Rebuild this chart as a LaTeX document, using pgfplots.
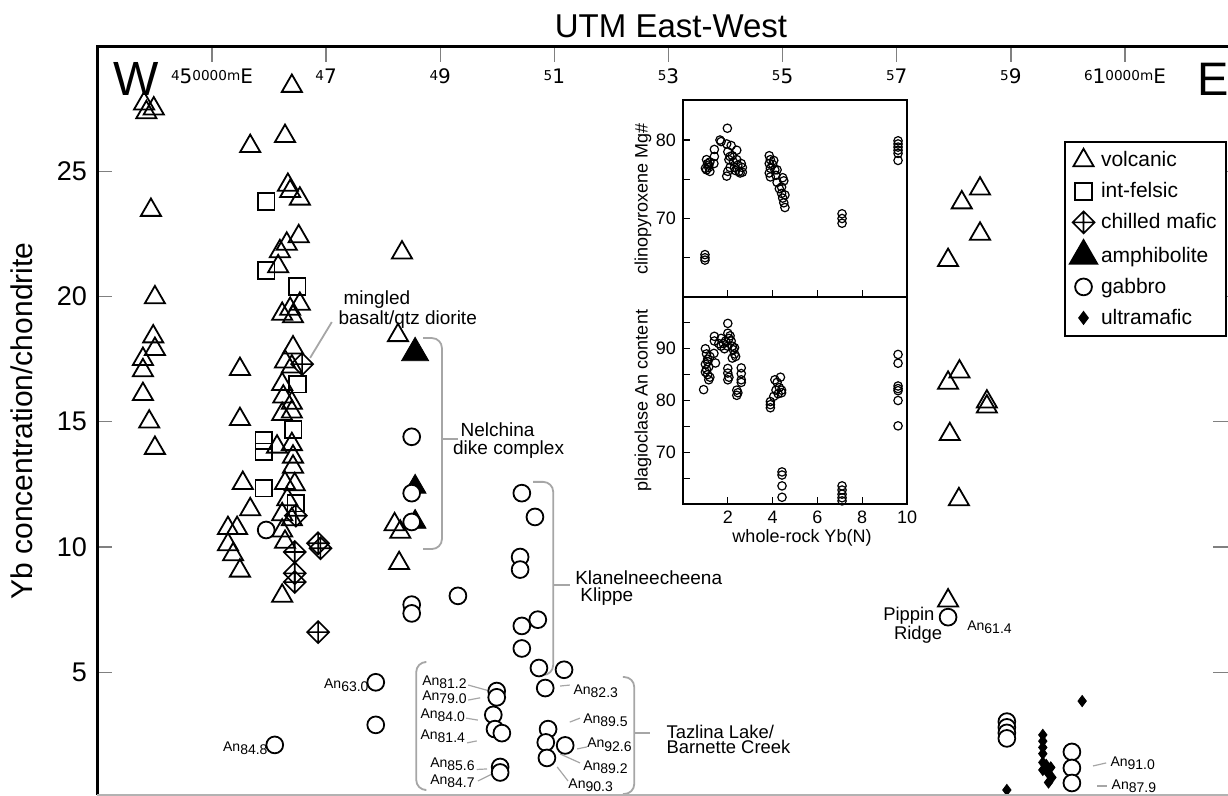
\documentclass[border=0pt]{standalone}
\usepackage{fontspec}
\setmainfont{Liberation Sans}
\newfontfamily\tickfont{DejaVu Sans}
\usepackage{pgfplots}
\pgfplotsset{compat=1.18}
\usetikzlibrary{calc}

% diamond with a cross inside (chilled mafic)
\pgfdeclareplotmark{chilled}{%
  \pgfpathmoveto{\pgfqpoint{0pt}{\pgfplotmarksize}}%
  \pgfpathlineto{\pgfqpoint{\pgfplotmarksize}{0pt}}%
  \pgfpathlineto{\pgfqpoint{0pt}{-\pgfplotmarksize}}%
  \pgfpathlineto{\pgfqpoint{-\pgfplotmarksize}{0pt}}%
  \pgfpathclose
  \pgfpathmoveto{\pgfqpoint{0pt}{\pgfplotmarksize}}%
  \pgfpathlineto{\pgfqpoint{0pt}{-\pgfplotmarksize}}%
  \pgfpathmoveto{\pgfqpoint{-\pgfplotmarksize}{0pt}}%
  \pgfpathlineto{\pgfqpoint{\pgfplotmarksize}{0pt}}%
  \pgfusepathqstroke}

\newcommand{\sm}[1]{\raisebox{1.8pt}{\fontsize{6.8}{7}\selectfont #1}}
\newcommand{\An}[1]{{\fontsize{7}{8}\selectfont An\raisebox{-0.45ex}{#1}}}
\newcommand{\annot}{\fontsize{9.5}{10}\selectfont}

\begin{document}
\begin{tikzpicture}
\begin{axis}[
  name=main,
  scale only axis, width=565.5pt, height=374pt,
  xmin=42.985, xmax=62.806, ymin=0.1, ymax=29.96,
  axis line style={draw=none},
  tick align=inside,
  major tick length=7.5pt,
  tick style={gray, line width=0.7pt},
  xtick={45,47,...,61},
  xtick pos=right, xticklabel pos=right,
  xticklabels={{\sm{4}5\sm{0000m}E},{\sm{4}7},{\sm{4}9},{\sm{5}1},{\sm{5}3},{\sm{5}5},{\sm{5}7},{\sm{5}9},{\sm{6}1\sm{0000m}E}},
  xticklabel style={font=\tickfont\fontsize{10}{10}\selectfont, anchor=base, yshift=-18.5pt},
  ytick={5,10,15,20,25},
  ytick pos=both, yticklabel pos=left,
  yticklabels={5,10,15,20,25},
  yticklabel style={font=\fontsize{13.5}{14}\selectfont, xshift=-1.5pt},
  legend cell align=left,
  legend style={at={(0.855,0.874)}, anchor=north west, draw=black, line width=1pt,
    font=\fontsize{10.5}{12}\selectfont, row sep=2.4pt, inner sep=2.5pt},
]
% volcanic
\addplot[only marks, mark=triangle, mark size=5.8pt, black, line width=0.9pt] coordinates {
 (43.81,27.7)(43.98,27.5)(43.85,27.35)(43.93,23.45)(44.0,19.96)(43.97,18.4)(44.0,17.9)
 (43.79,17.5)(43.79,17.05)(43.79,16.1)(43.9,15.0)(44.0,13.95)
 (45.67,26.0)(45.49,17.1)(45.49,15.1)(45.54,12.55)(45.67,11.5)(45.28,10.75)(45.44,10.75)
 (45.28,10.1)(45.37,9.7)(45.49,9.05)
 (46.40,28.4)(46.28,26.4)(46.33,24.45)(46.37,24.2)(46.54,23.9)(46.52,22.4)(46.31,22.1)
 (46.19,21.8)(46.16,21.2)(46.54,19.7)(46.37,19.5)(46.23,19.3)(46.42,19.2)(46.42,17.96)
 (46.28,17.4)(46.40,17.2)(46.23,16.5)(46.25,16.0)(46.40,15.75)(46.23,15.3)(46.40,15.4)
 (46.14,14.0)(46.40,14.1)(46.42,13.6)(46.42,13.2)(46.28,12.55)(46.45,12.5)(46.32,11.9)
 (46.23,11.3)(46.40,11.1)(46.23,10.65)(46.28,10.2)(46.23,8.05)
 (48.33,21.75)(48.26,18.45)(48.2,10.9)(48.3,10.6)(48.28,9.35)
 (58.46,24.3)(58.14,23.75)(58.46,22.5)(57.9,21.45)(58.1,17.0)(57.9,16.55)(58.58,15.8)
 (58.58,15.6)(57.93,14.5)(58.09,11.9)(57.9,7.86)
};
\addlegendentry{volcanic}
% int-felsic
\addplot[only marks, mark=square, mark size=4.2pt, black, line width=0.9pt] coordinates {
 (45.95,23.8)(45.95,21.05)(46.49,20.4)(46.5,16.5)(46.42,14.7)(45.91,14.25)(45.91,13.8)
 (45.91,12.35)(46.47,11.75)
};
\addlegendentry{int-felsic}
% chilled mafic
\addplot[only marks, mark=chilled, mark size=5.5pt, black, line width=0.8pt] coordinates {
 (46.58,17.3)(46.47,11.25)(46.86,10.15)(46.90,9.95)(46.45,9.8)(46.45,8.95)(46.45,8.6)(46.86,6.6)
};
\addlegendentry{chilled mafic}
% amphibolite
\addplot[only marks, mark=triangle*, mark size=7.8pt, black] coordinates {(48.56,17.75)};
\addlegendentry{amphibolite}
\addplot[only marks, mark=triangle*, mark size=6.3pt, black, forget plot] coordinates {
 (48.56,12.4)(48.56,11.0)
};
% gabbro
\addplot[only marks, mark=*, mark size=4.2pt, mark options={draw=black, fill=white}, line width=0.9pt] coordinates {
 (45.95,10.68)(48.5,14.4)(48.5,12.15)(48.5,11.0)(48.5,7.7)(48.5,7.35)(49.31,8.05)
 (50.43,12.15)(50.66,11.2)(50.4,9.6)(50.4,9.1)(50.71,7.1)(50.43,6.85)(50.43,5.95)
 (50.73,5.17)(51.17,5.1)(50.84,4.37)(47.87,4.6)(47.87,2.9)(46.1,2.1)
 (49.99,4.25)(49.99,4.0)(49.93,3.3)(49.96,2.73)(50.08,2.57)(50.05,1.22)(50.05,1.0)
 (50.89,2.73)(50.85,2.2)(51.19,2.08)(50.87,1.58)
 (57.9,7.2)(58.93,3.03)(58.93,2.8)(58.93,2.58)(58.93,2.36)
 (60.07,1.82)(60.07,1.18)(60.07,0.58)
};
\addlegendentry{gabbro}
% ultramafic
\addplot[only marks, mark=diamond*, mark size=2.8pt, black] coordinates {
 (60.25,3.85)(59.56,2.5)(59.56,2.25)(59.56,2.0)(59.56,1.75)(59.56,1.4)(59.62,1.3)(59.7,1.2)
 (59.56,1.1)(59.66,0.95)(59.72,0.8)(59.66,0.6)(58.93,0.3)
};
\addlegendentry{ultramafic}

% brackets and leader lines
\begin{scope}[gray!70, line width=0.9pt, rounded corners=5pt]
\draw (axis cs:48.70,18.34) -- (axis cs:49.03,18.34) -- (axis cs:49.03,9.92) -- (axis cs:48.70,9.92);
\draw (axis cs:50.63,12.6) -- (axis cs:50.98,12.6) -- (axis cs:50.98,4.89) -- (axis cs:50.78,4.89);
\draw (axis cs:48.73,5.41) -- (axis cs:48.58,5.41) -- (axis cs:48.58,0.3) -- (axis cs:48.73,0.3);
\draw (axis cs:52.20,4.81) -- (axis cs:52.40,4.81) -- (axis cs:52.40,0.14) -- (axis cs:52.20,0.14);
\end{scope}
\begin{scope}[gray!70, line width=0.9pt]
\draw (axis cs:49.03,14.31) -- (axis cs:49.31,14.31);
\draw (axis cs:50.98,8.48) -- (axis cs:51.27,8.48);
\draw (axis cs:52.40,2.58) -- (axis cs:52.68,2.58);
\draw (axis cs:47.10,18.98) -- (axis cs:46.72,17.55);
\end{scope}
\begin{scope}[gray!70, line width=0.6pt]
\draw (axis cs:49.49,4.49) -- (axis cs:49.87,4.25);
\draw (axis cs:49.49,3.89) -- (axis cs:49.70,3.98);
\draw (axis cs:49.45,3.17) -- (axis cs:49.66,3.09);
\draw (axis cs:49.47,2.18) -- (axis cs:49.64,2.26);
\draw (axis cs:49.64,1.12) -- (axis cs:49.82,1.14);
\draw (axis cs:49.66,0.66) -- (axis cs:49.91,0.94);
\draw (axis cs:51.10,4.45) -- (axis cs:51.27,4.49);
\draw (axis cs:51.27,3.01) -- (axis cs:51.45,3.17);
\draw (axis cs:51.40,1.94) -- (axis cs:51.57,2.02);
\draw (axis cs:51.10,1.74) -- (axis cs:51.45,1.38);
\draw (axis cs:51.05,1.22) -- (axis cs:51.24,0.66);
\draw (axis cs:60.44,1.26) -- (axis cs:60.67,1.38);
\draw (axis cs:60.51,0.46) -- (axis cs:60.69,0.46);
\end{scope}

% text
\begin{scope}[every node/.style={inner sep=0pt, font=\annot}]
\node[anchor=west] at (axis cs:49.35,14.67) {Nelchina};
\node[anchor=west] at (axis cs:49.22,13.87) {dike complex};
\node[anchor=west] at (axis cs:51.36,8.76) {Klanelneecheena};
\node[anchor=west] at (axis cs:51.45,8.04) {Klippe};
\node[anchor=west, align=left, font=\fontsize{9.2}{7.9}\selectfont] at (axis cs:52.96,2.32) {Tazlina Lake/\\Barnette Creek};
\node at (axis cs:47.89,19.86) {mingled};
\node at (axis cs:48.43,19.06) {basalt/qtz diorite};
\node[align=center, font=\fontsize{9.2}{8.2}\selectfont] at (axis cs:57.31,6.88) {\hspace*{-0.6em}Pippin\\\hspace*{0.4em}Ridge};
\node[anchor=west] at (axis cs:58.23,6.81) {\An{61.4}};
\node[anchor=east] at (axis cs:49.47,4.61) {\An{81.2}};
\node[anchor=east] at (axis cs:49.47,4.01) {\An{79.0}};
\node[anchor=east] at (axis cs:49.44,3.29) {\An{84.0}};
\node[anchor=east] at (axis cs:49.44,2.45) {\An{81.4}};
\node[anchor=east, align=right, font=\fontsize{7}{8.4}\selectfont] at (axis cs:49.61,0.99) {\An{85.6}\\\An{84.7}};
\node[anchor=east] at (axis cs:47.75,4.49) {\An{63.0}};
\node[anchor=east] at (axis cs:45.98,1.98) {\An{84.8}};
\node[anchor=west] at (axis cs:51.33,4.25) {\An{82.3}};
\node[anchor=west] at (axis cs:51.50,3.09) {\An{89.5}};
\node[anchor=west] at (axis cs:51.57,2.10) {\An{92.6}};
\node[anchor=west] at (axis cs:51.50,1.22) {\An{89.2}};
\node[anchor=west] at (axis cs:51.24,0.50) {\An{90.3}};
\node[anchor=west] at (axis cs:60.74,1.38) {\An{91.0}};
\node[anchor=west] at (axis cs:60.76,0.46) {\An{87.9}};
\node[anchor=base west, font=\fontsize{24}{24}\selectfont] at (axis cs:43.27,28.04) {W};
\node[anchor=base west, font=\fontsize{23.5}{24}\selectfont] at (axis cs:62.26,28.04) {E};
\end{scope}
\end{axis}

% frame of the main axis
\draw[line width=1.5pt] (main.south west) -- (main.north west) -- (main.north east);
\draw[gray!60, line width=0.8pt] (main.south west) -- (main.south east);
\node[anchor=base, font=\fontsize{16.5}{17}\selectfont] at ($(main.north)+(4.25pt,4.5pt)$) {UTM East-West};
\node[rotate=90, font=\fontsize{15}{16}\selectfont] at ($(main.west)+(-37.5pt,0)$) {Yb concentration/chondrite};

% inset: clinopyroxene
\begin{axis}[
  name=up,
  at={($(main.north west)+(293pt,-26.5pt)$)}, anchor=north west,
  scale only axis, width=112pt, height=98.5pt,
  xmin=0, xmax=10, ymin=60, ymax=85.1,
  axis background/.style={fill=white},
  axis line style={line width=1.1pt},
  tick align=inside, major tick length=3.5pt, tick style={black, line width=0.6pt},
  xtick={2,4,6,8}, xticklabels={}, xtick pos=left,
  ytick={65,70,75,80}, yticklabels={,70,,80}, ytick pos=left,
  yticklabel style={font=\fontsize{9}{10}\selectfont},
]
\addplot[only marks, mark=o, mark size=2.1pt, line width=0.6pt, black] coordinates {
 (1.05,77.5)(1.1,77.0)(1.15,76.5)(1.05,76.2)(1.2,76.0)(1.15,76.8)(1.0,76.4)(1.2,77.2)
 (0.98,65.4)(0.98,65.0)(0.98,64.7)
 (1.4,77.9)(1.4,78.8)(1.38,77.0)
 (1.65,80.0)(1.7,79.8)(1.98,81.5)
 (1.95,79.5)(2.0,78.5)(2.05,77.5)(2.1,76.5)(2.0,76.0)(1.95,75.4)(2.15,79.3)(2.2,78.0)
 (2.25,77.2)(2.3,76.5)(2.4,78.7)(2.4,77.5)(2.45,76.8)(2.5,76.0)(2.55,75.8)(2.6,77.0)
 (2.65,76.5)(2.65,75.9)(2.1,77.9)(2.35,76.1)
 (3.85,78.0)(3.9,77.5)(3.85,77.0)(3.9,76.4)(3.85,75.8)(3.9,75.3)(4.0,76.9)(4.1,76.2)
 (4.15,75.5)(4.2,74.6)(4.3,73.8)(4.4,73.2)(4.45,72.6)(4.5,72.0)(4.55,71.4)(4.5,74.8)
 (4.45,75.2)(4.4,74.0)(4.2,76.2)(4.05,77.4)(4.55,73.0)
 (7.1,70.6)(7.1,70.0)(7.1,69.4)
 (9.6,79.9)(9.6,79.5)(9.6,79.1)(9.6,78.7)(9.6,78.3)(9.6,77.4)
};
\end{axis}
\node[rotate=90, font=\fontsize{9}{10}\selectfont] at ($(up.west)+(-20pt,0)$) {clinopyroxene Mg\#};

% inset: plagioclase
\begin{axis}[
  name=low,
  at={($(main.north west)+(293pt,-125pt)$)}, anchor=north west,
  scale only axis, width=112pt, height=103.5pt,
  xmin=0, xmax=10, ymin=60, ymax=100,
  axis background/.style={fill=white},
  axis line style={line width=1.1pt},
  tick align=inside, major tick length=3.5pt, tick style={black, line width=0.6pt},
  xtick={2,4,6,8,10}, xticklabels={2,4,6,8,10}, xtick pos=left,
  xticklabel style={font=\fontsize{9}{10}\selectfont},
  ytick={65,70,...,95}, yticklabels={,70,,80,,90,}, ytick pos=left,
  yticklabel style={font=\fontsize{9}{10}\selectfont},
]
\addplot[only marks, mark=o, mark size=2.1pt, line width=0.6pt, black] coordinates {
 (1.0,90.0)(1.05,89.0)(1.1,88.0)(1.0,87.0)(1.15,86.5)(1.05,86.0)(1.1,85.0)(1.2,84.5)
 (1.0,85.5)(1.1,87.5)(1.2,88.5)(1.15,84.0)
 (0.92,82.1)
 (1.4,92.4)(1.4,91.5)(1.45,87.25)(1.38,89.1)
 (1.6,91.0)(1.7,90.5)(1.8,91.0)(1.9,91.5)(1.7,92.0)(2.0,90.5)(1.85,90.0)
 (2.0,94.9)(2.0,93.0)(2.05,92.0)
 (2.1,92.5)(2.15,91.5)(2.2,90.5)(2.25,89.8)(2.3,89.0)(2.35,88.5)(2.2,88.2)(2.3,90.2)
 (2.0,86.2)(2.0,85.3)(2.05,84.5)(2.0,84.0)
 (2.4,82.0)(2.45,81.5)(2.4,81.0)
 (2.6,86.3)(2.6,85.2)(2.6,84.0)(2.6,83.5)
 (3.9,79.8)(3.9,79.2)(3.9,78.6)
 (4.1,84.0)(4.2,83.5)(4.35,84.5)(4.15,82.0)(4.3,82.5)(4.4,82.0)(4.25,81.3)(4.4,81.5)(4.05,80.8)
 (4.42,66.2)(4.42,65.6)(4.42,63.5)(4.42,61.3)
 (7.1,63.5)(7.1,62.7)(7.1,61.9)(7.1,61.2)(7.1,60.6)
 (9.6,88.9)(9.6,87.2)(9.6,82.8)(9.6,82.3)(9.6,81.9)(9.6,80.0)(9.6,75.1)
};
\end{axis}
\node[rotate=90, font=\fontsize{9}{10}\selectfont] at ($(low.west)+(-20pt,0)$) {plagioclase An content};
\node[font=\fontsize{9}{10}\selectfont] at ($(low.south)+(3.5pt,-17pt)$) {whole-rock Yb(N)};

\pgfresetboundingbox
\path ($(main.south west)+(-48.5pt,0)$) rectangle ($(main.north east)+(0,23.5pt)$);
\end{tikzpicture}
\end{document}
